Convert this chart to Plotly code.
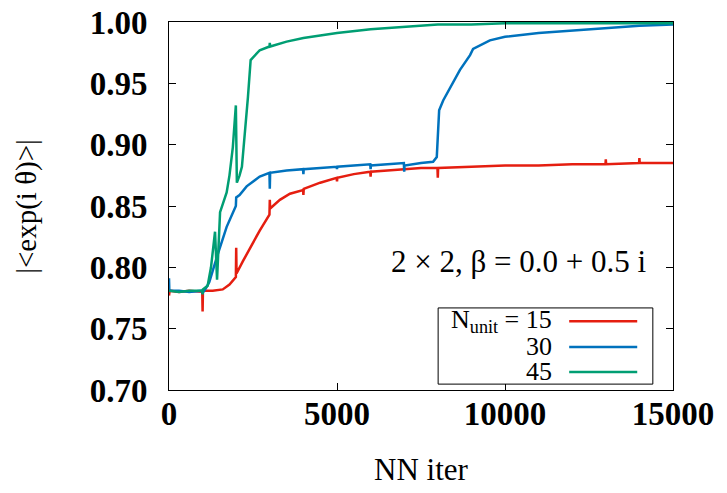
import plotly.graph_objects as go

# ---- data ----
red_x = [0, 20, 300, 600, 990, 1000, 1010, 1300, 1600, 1800, 1990, 2000, 2010, 2200, 2400, 2700,
         2990, 3000, 3010, 3300, 3600, 3990, 4000, 4010, 4500, 4990, 5000, 5010, 5500, 5990, 6000,
         6010, 6500, 7000, 7500, 7990, 8000, 8010, 9000, 10000, 11000, 12000, 12990, 13000, 13010,
         13990, 14000, 14010, 15000]
red_y = [0.777, 0.781, 0.780, 0.781, 0.780, 0.764, 0.781, 0.781, 0.782, 0.786, 0.792, 0.816, 0.795,
         0.805, 0.815, 0.830, 0.843, 0.855, 0.848, 0.855, 0.860, 0.863, 0.859, 0.864, 0.869, 0.873,
         0.870, 0.873, 0.876, 0.878, 0.874, 0.878, 0.879, 0.880, 0.881, 0.881, 0.873, 0.881, 0.882,
         0.883, 0.883, 0.884, 0.884, 0.888, 0.884, 0.885, 0.889, 0.885, 0.885]

blue_x = [0, 10, 300, 600, 990, 1000, 1100, 1200, 1420, 1716, 1990, 2000, 2100, 2310, 2700, 2990,
          3000, 3010, 3500, 3990, 4000, 4010, 4500, 4990, 5000, 5010, 5500, 5990, 6000, 6010, 6500,
          6990, 7000, 7010, 7500, 7860, 7970, 8040, 8160, 8360, 8660, 8960, 9000, 9050, 9550, 10000,
          11000, 12000, 13000, 14000, 15000]
blue_y = [0.791, 0.781, 0.781, 0.780, 0.781, 0.779, 0.783, 0.788, 0.808, 0.833, 0.850, 0.857, 0.859,
          0.866, 0.874, 0.877, 0.864, 0.877, 0.879, 0.880, 0.876, 0.880, 0.881, 0.882, 0.880, 0.882,
          0.883, 0.884, 0.880, 0.883, 0.884, 0.885, 0.878, 0.883, 0.885, 0.886, 0.890, 0.928, 0.936,
          0.946, 0.961, 0.973, 0.975, 0.978, 0.985, 0.988, 0.991, 0.993, 0.995, 0.997, 0.998]

green_x = [0, 300, 600, 990, 1000, 1010, 1150, 1250, 1370, 1430, 1520, 1716, 1800, 1900, 1990, 2020,
           2100, 2170, 2350, 2430, 2700, 2990, 3000, 3010, 3500, 4000, 4500, 5000, 6000, 7000, 8000,
           9000, 10000, 12000, 15000]
green_y = [0.781, 0.780, 0.781, 0.781, 0.778, 0.782, 0.785, 0.800, 0.829, 0.790, 0.845, 0.861, 0.875,
           0.898, 0.932, 0.869, 0.875, 0.882, 0.939, 0.969, 0.977, 0.980, 0.983, 0.980, 0.984, 0.987,
           0.989, 0.991, 0.994, 0.996, 0.998, 0.998, 0.999, 0.999, 0.999]

series_names = ["15", "30", "45"]
series_colors = ["#e51e10", "#0072bd", "#009e73"]

x_ticks = [0, 5000, 10000, 15000]
y_ticks = [0.70, 0.75, 0.80, 0.85, 0.90, 0.95, 1.00]

SERIF = "Liberation Serif, Times New Roman, serif"

fig = go.Figure()
for xs, ys, name, col in zip([red_x, blue_x, green_x], [red_y, blue_y, green_y],
                             series_names, series_colors):
    fig.add_trace(go.Scatter(x=xs, y=ys, mode="lines", name=name,
                             line=dict(color=col, width=2.5), showlegend=False))

axis_common = dict(showgrid=False, zeroline=False, showline=True, linecolor="black",
                   linewidth=1, mirror="ticks", ticks="inside", ticklen=7, tickcolor="black",
                   automargin=False,
                   tickfont=dict(family=SERIF, size=33, color="black", weight="bold"))

fig.update_xaxes(range=[0, 15000], tickvals=x_ticks, ticktext=[str(v) for v in x_ticks],
                 ticklabelstandoff=-6, **axis_common)
fig.update_yaxes(range=[0.70, 1.00], tickvals=y_ticks, ticktext=[f"{v:.2f}" for v in y_ticks],
                 ticklabelstandoff=14, **axis_common)

annotations = [
    dict(text="|&lt;exp(i θ)&gt;|", xref="paper", yref="paper", x=-0.284, y=0.5,
         xanchor="center", yanchor="middle",
         textangle=-90, showarrow=False, font=dict(family=SERIF, size=29, color="black")),
    dict(text="NN iter", xref="paper", yref="paper", x=0.5, y=-0.217,
         xanchor="center", yanchor="middle",
         showarrow=False, font=dict(family=SERIF, size=31, color="black")),
    dict(text="2 × 2, β = 0.0 + 0.5 i", xref="paper", yref="paper", x=0.95, y=0.348,
         xanchor="right", yanchor="middle", showarrow=False,
         font=dict(family=SERIF, size=31, color="black")),
]

# custom legend (text right aligned, sample line to the right)
legend_rows_y = [0.187, 0.117, 0.049]
legend_labels = ["N<sub>unit</sub> = 15", "30", "45"]
shapes = [dict(type="rect", xref="paper", yref="paper", x0=0.534, x1=0.960, y0=0.016, y1=0.223,
               line=dict(color="black", width=1), fillcolor="white", layer="above")]
for ly, lab, col in zip(legend_rows_y, legend_labels, series_colors):
    annotations.append(dict(text=lab, xref="paper", yref="paper", x=0.763, y=ly,
                            xanchor="right", yanchor="middle", showarrow=False,
                            font=dict(family=SERIF, size=26, color="black")))
    shapes.append(dict(type="line", xref="paper", yref="paper", x0=0.794, x1=0.929,
                       y0=ly, y1=ly, line=dict(color=col, width=2.5), layer="above"))

fig.update_layout(width=727, height=493, margin=dict(l=169, r=54, t=22, b=103),
                  plot_bgcolor="white", paper_bgcolor="white",
                  annotations=annotations, shapes=shapes)

fig.write_html("out.html")
